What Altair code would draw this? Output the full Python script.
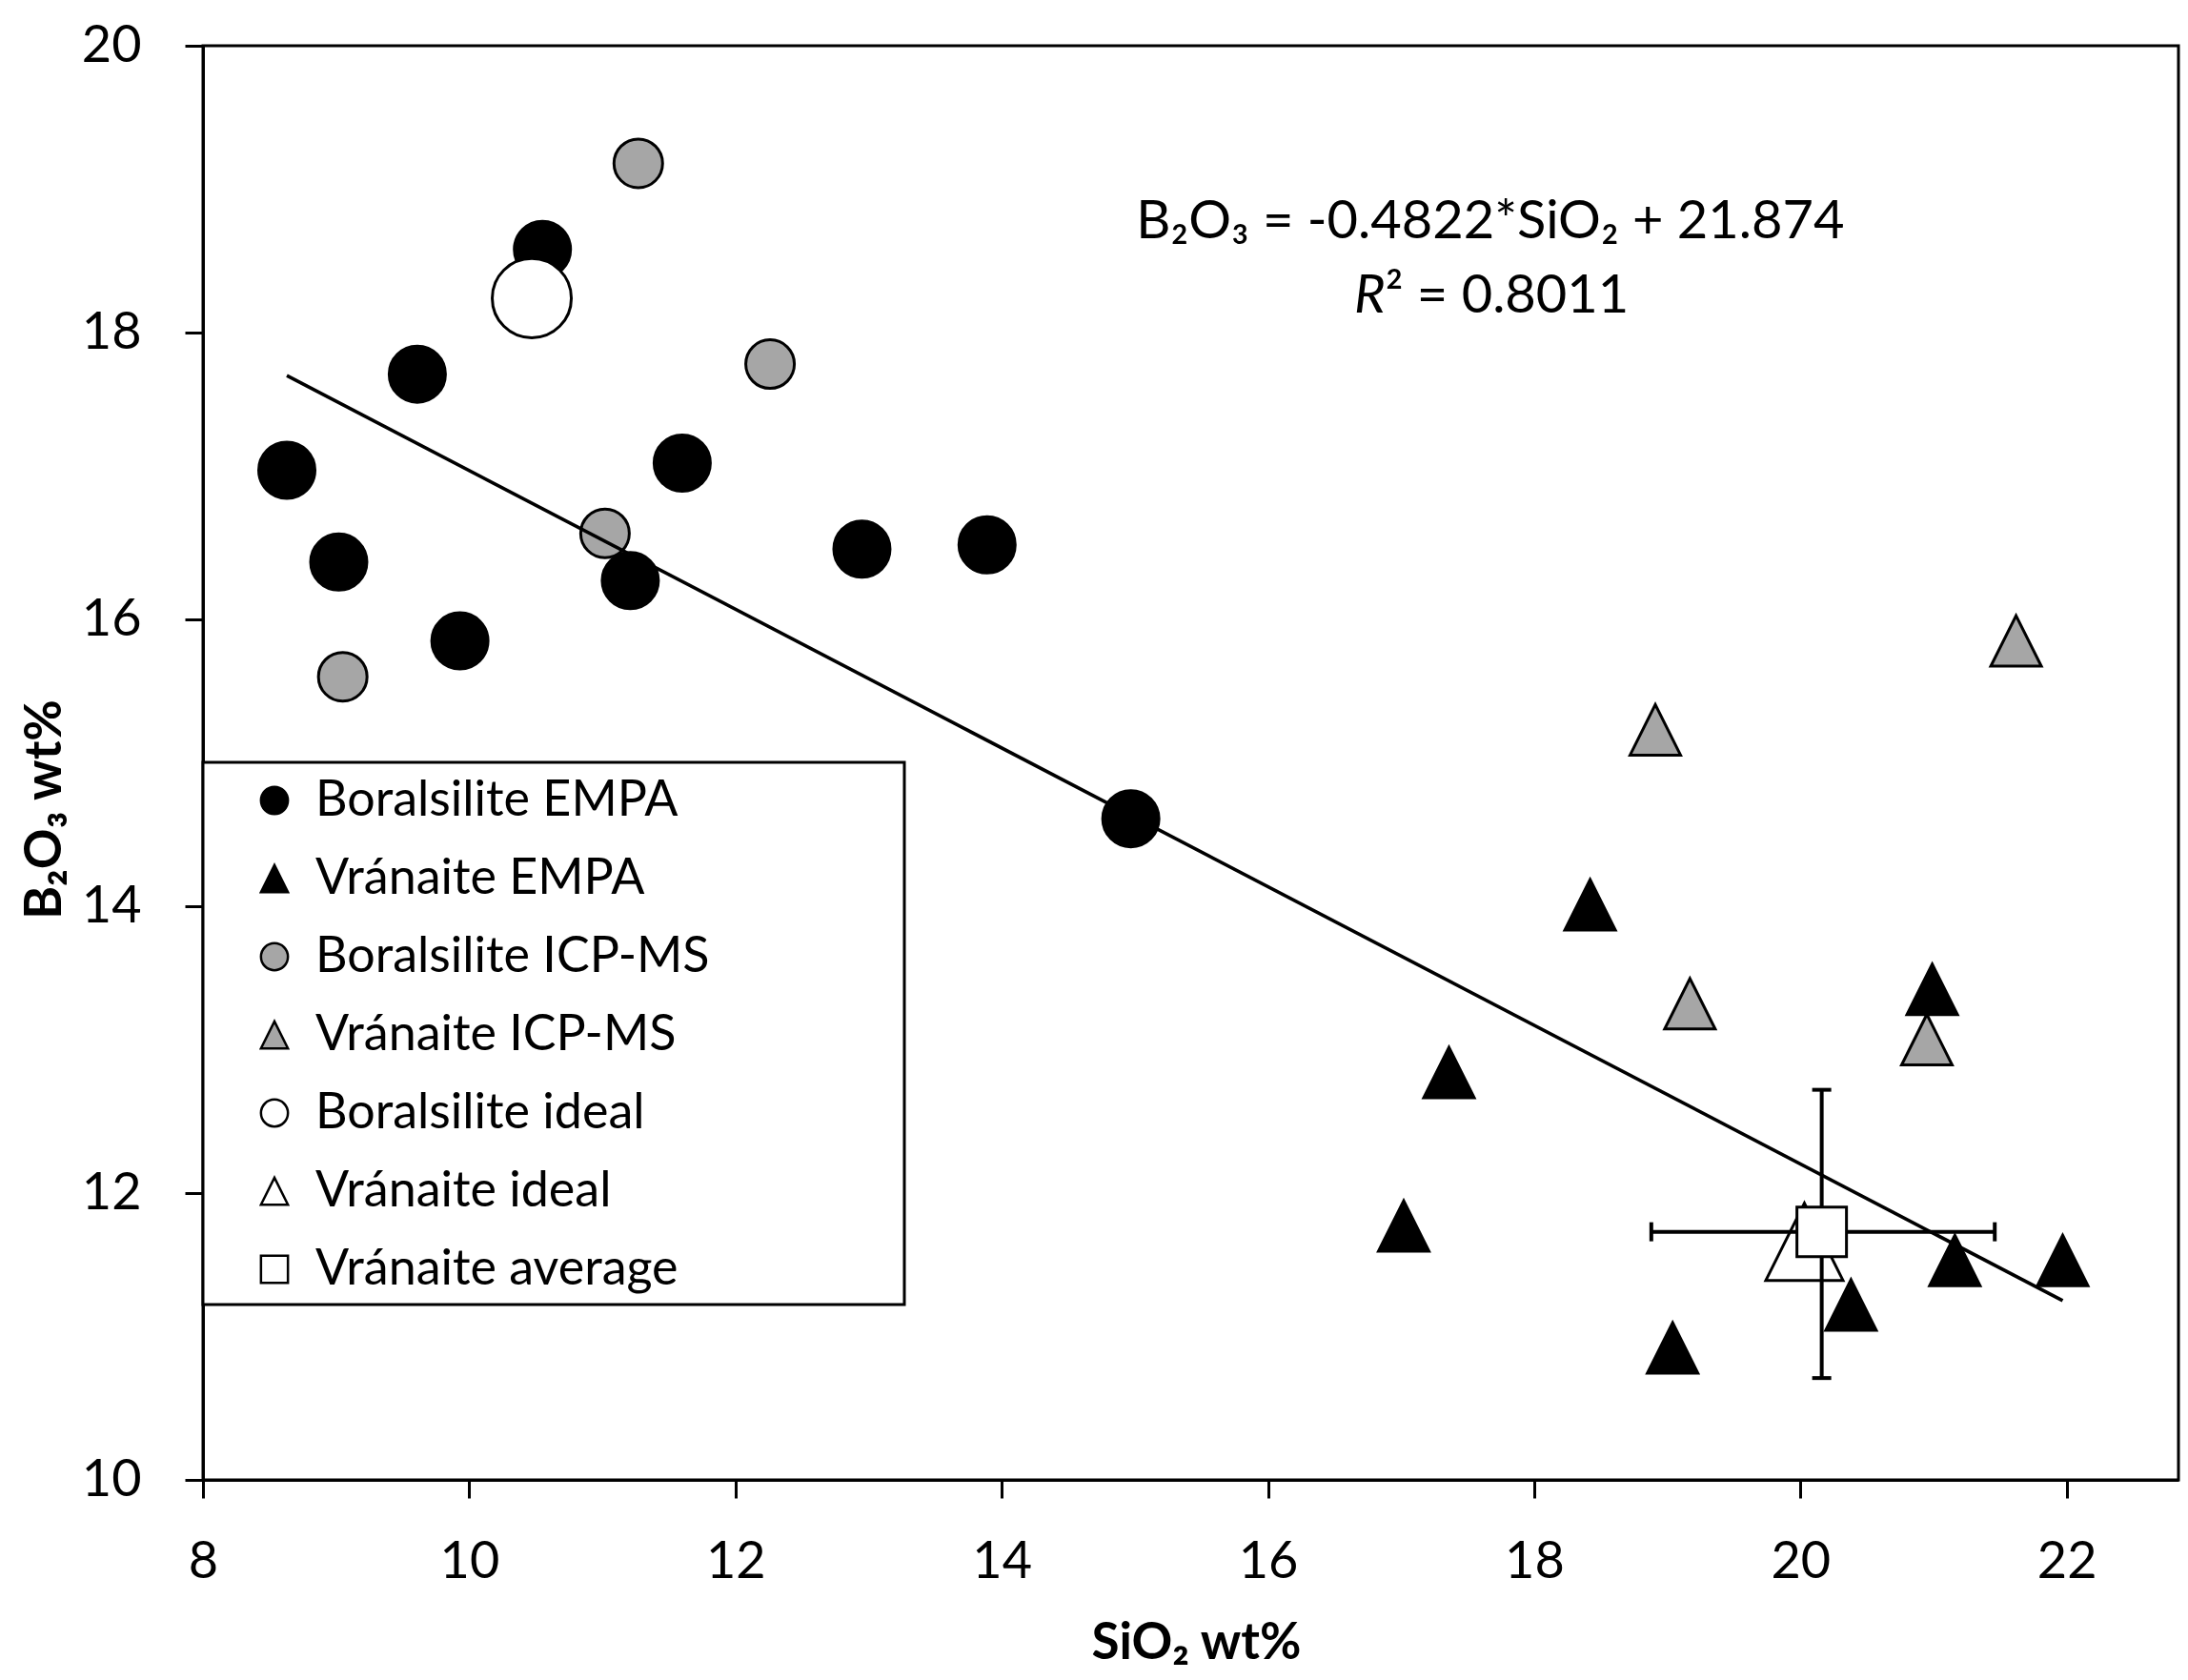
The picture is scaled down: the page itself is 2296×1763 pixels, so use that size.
import altair as alt
import pandas as pd

FONT = "Lato"

SERIES = ["Boralsilite EMPA", "Vránaite EMPA", "Boralsilite ICP-MS",
          "Vránaite ICP-MS", "Boralsilite ideal", "Vránaite ideal",
          "Vránaite average"]
TRI = "M0,-1L1,1L-1,1Z"
FILLS = ["black", "black", "#a6a6a6", "#a6a6a6", "white", "white", "white"]
STROKES = ["black"] * 7
SHAPES = ["circle", TRI, "circle", TRI, "circle", TRI, "square"]

# Boralsilite EMPA
bor_empa_x = [8.63, 9.02, 9.61, 9.93, 10.55, 11.21, 11.60, 12.95, 13.89, 14.97]
bor_empa_y = [17.04, 16.40, 17.71, 15.85, 18.58, 16.27, 17.09, 16.49, 16.52, 14.61]
# Vránaite EMPA
vra_empa_x = [18.42, 17.36, 17.02, 19.04, 20.99, 20.38, 21.16, 21.97]
vra_empa_y = [14.01, 12.84, 11.77, 10.92, 13.42, 11.22, 11.53, 11.53]
# Boralsilite ICP-MS
bor_icp_x = [11.27, 12.26, 11.02, 9.05]
bor_icp_y = [19.18, 17.78, 16.60, 15.60]
# Vránaite ICP-MS
vra_icp_x = [21.62, 18.91, 19.17, 20.95]
vra_icp_y = [15.85, 15.23, 13.32, 13.07]
# ideal compositions
bor_ideal_x, bor_ideal_y = [10.47], [18.24]
vra_ideal_x, vra_ideal_y = [20.03], [11.66]
# Vránaite average with error bars
avg_x, avg_y = [20.16], [11.73]
avg_x_lo, avg_x_hi = [18.88], [21.46]
avg_y_lo, avg_y_hi = [10.71], [12.72]
# trendline end points
trend_x = [8.63, 21.97]
trend_y = [17.70, 11.25]
# equation text anchor
eq_x = [17.67]
eq_y1 = [18.66]
eq_y2 = [18.14]

X_TICKS = [8, 10, 12, 14, 16, 18, 20, 22]
Y_TICKS = [10, 12, 14, 16, 18, 20]
XTITLE = "SiO₂ wt%"
YTITLE = "B₂O₃ wt%"

W, H = 2073, 1505
xscale = alt.Scale(domain=[8, 22.84], nice=False, zero=False)
yscale = alt.Scale(domain=[10, 20], nice=False, zero=False)
xaxis = alt.Axis(values=X_TICKS, title=XTITLE, labelPadding=40,
                 titleX=1042, titleY=187, titleAlign="center",
                 titleBaseline="alphabetic", labelFlush=False,
                 labelOverlap=False, labelBound=False, grid=False)
yaxis = alt.Axis(values=Y_TICKS, title=YTITLE, labelPadding=46,
                 titleX=-166, titleY=801, titleAngle=270,
                 titleAlign="center", titleBaseline="middle",
                 labelFlush=False, labelOverlap=False, labelBound=False,
                 grid=False)

legend = alt.Legend(
    title=None, orient="none", legendX=0, legendY=752, zindex=1,
    padding=14, symbolOffset=35, labelOffset=17, rowPadding=30,
    symbolSize=800, symbolStrokeColor="black", symbolStrokeWidth=2.5,
    labelFont=FONT, labelFontSize=52, labelColor="black", labelLimit=0,
)
fill_enc = alt.Fill("series:N", scale=alt.Scale(domain=SERIES, range=FILLS), legend=legend)
shape_enc = alt.Shape("series:N", scale=alt.Scale(domain=SERIES, range=SHAPES), legend=legend)
stroke_enc = alt.Stroke("series:N", scale=alt.Scale(domain=SERIES, range=STROKES), legend=legend)

X = lambda f: alt.X(f, type="quantitative", scale=xscale, axis=xaxis)
Y = lambda f: alt.Y(f, type="quantitative", scale=yscale, axis=yaxis)


def pts(xs, ys, name, size):
    df = pd.DataFrame({"x": xs, "y": ys, "series": name})
    return alt.Chart(df).mark_point(
        filled=True, size=size, strokeWidth=3, opacity=1
    ).encode(x=X("x"), y=Y("y"), fill=fill_enc, shape=shape_enc, stroke=stroke_enc)


l_bor_icp = pts(bor_icp_x, bor_icp_y, "Boralsilite ICP-MS", 2601)
l_bor_empa = pts(bor_empa_x, bor_empa_y, "Boralsilite EMPA", 3481)
l_bor_ideal = pts(bor_ideal_x, bor_ideal_y, "Boralsilite ideal", 6889)
l_vra_ideal = pts(vra_ideal_x, vra_ideal_y, "Vránaite ideal", 6561)
l_vra_empa = pts(vra_empa_x, vra_empa_y, "Vránaite EMPA", 2809)
l_vra_icp = pts(vra_icp_x, vra_icp_y, "Vránaite ICP-MS", 2809)

err_df = pd.DataFrame({"x": avg_x, "y": avg_y, "xlo": avg_x_lo, "xhi": avg_x_hi,
                       "ylo": avg_y_lo, "yhi": avg_y_hi})
base_err = alt.Chart(err_df)
err_h = base_err.mark_rule(color="black", strokeWidth=4).encode(
    x=X("xlo"), x2="xhi", y=Y("y"))
err_v = base_err.mark_rule(color="black", strokeWidth=4).encode(
    y=Y("ylo"), y2="yhi", x=X("x"))
cap_style = dict(color="black", thickness=4, size=20, opacity=1)
cap_xlo = base_err.mark_tick(orient="vertical", **cap_style).encode(x=X("xlo"), y=Y("y"))
cap_xhi = base_err.mark_tick(orient="vertical", **cap_style).encode(x=X("xhi"), y=Y("y"))
cap_ylo = base_err.mark_tick(orient="horizontal", **cap_style).encode(x=X("x"), y=Y("ylo"))
cap_yhi = base_err.mark_tick(orient="horizontal", **cap_style).encode(x=X("x"), y=Y("yhi"))

l_avg = pts(avg_x, avg_y, "Vránaite average", 2704)

trend = alt.Chart(pd.DataFrame({"x": trend_x, "y": trend_y})).mark_line(
    color="black", strokeWidth=3.6
).encode(x=X("x"), y=Y("y"))

eq1 = alt.Chart(pd.DataFrame({"x": eq_x, "y": eq_y1,
                              "t": ["B₂O₃ = -0.4822*SiO₂ + 21.874"]})).mark_text(
    font=FONT, fontSize=56, color="black", align="center", baseline="alphabetic"
).encode(x=X("x"), y=Y("y"), text="t:N")
eq2a = alt.Chart(pd.DataFrame({"x": eq_x, "y": eq_y2, "t": ["R"]})).mark_text(
    font=FONT, fontSize=56, fontStyle="italic", color="black", align="right",
    baseline="alphabetic", dx=-110
).encode(x=X("x"), y=Y("y"), text="t:N")
eq2b = alt.Chart(pd.DataFrame({"x": eq_x, "y": eq_y2, "t": ["² = 0.8011"]})).mark_text(
    font=FONT, fontSize=56, color="black", align="left",
    baseline="alphabetic", dx=-110
).encode(x=X("x"), y=Y("y"), text="t:N")

legend_box = alt.Chart(pd.DataFrame({"a": [0]})).mark_rect(
    fill="white", stroke="black", strokeWidth=3
).encode(x=alt.value(0), x2=alt.value(736), y=alt.value(752), y2=alt.value(1321))

chart = alt.layer(
    l_vra_ideal, l_bor_icp, l_bor_empa, l_bor_ideal, l_vra_empa, l_vra_icp,
    err_h, err_v, cap_xlo, cap_xhi, cap_ylo, cap_yhi, l_avg, trend,
    eq1, eq2a, eq2b, legend_box,
).properties(
    width=W, height=H,
    autosize=alt.AutoSizeParams(type="none"),
    padding={"left": 205, "top": 40, "right": 2, "bottom": 200},
    background="white",
).configure_view(
    stroke="black", strokeWidth=3
).configure_axis(
    domainColor="black", domainWidth=3, tickColor="black", tickWidth=3,
    tickSize=19, labelColor="black", labelFont=FONT, labelFontSize=54,
    titleFont=FONT, titleFontSize=53, titleFontWeight="bold",
    titleColor="black", grid=False,
)

chart.save("out.html", embed_options={"renderer": "svg", "actions": False})
